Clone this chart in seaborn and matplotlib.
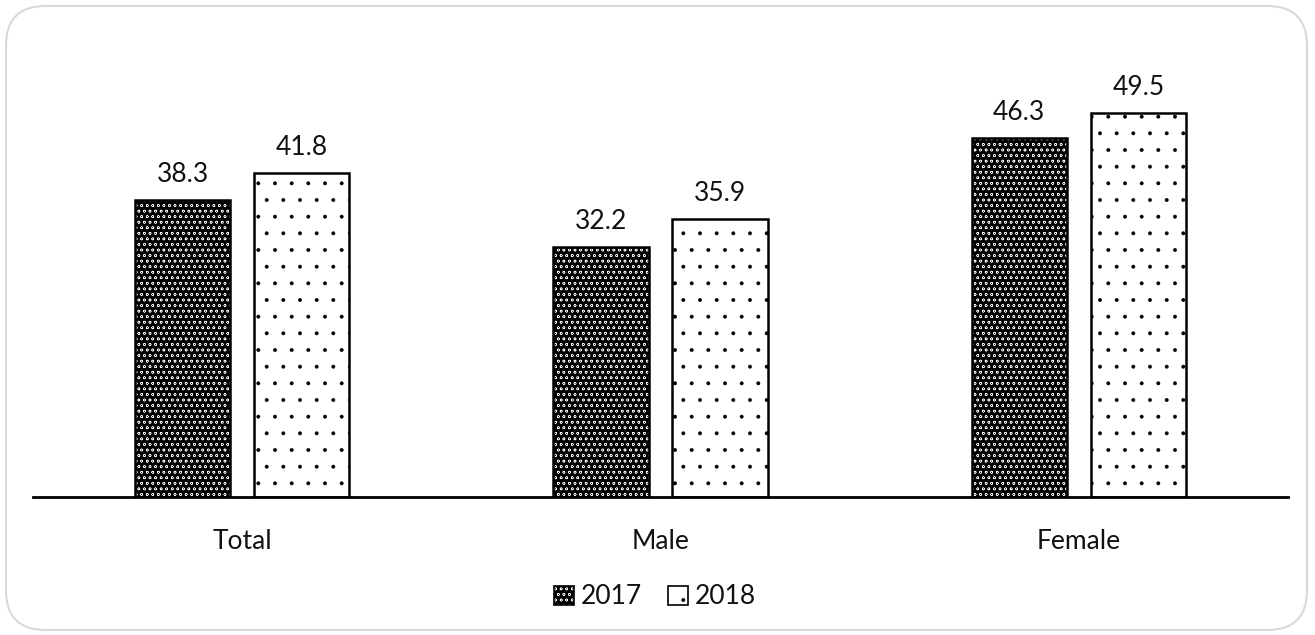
import matplotlib
matplotlib.use("Agg")
import matplotlib.pyplot as plt
from matplotlib.patches import Rectangle, FancyBboxPatch, Patch
import seaborn as sns
import pandas as pd

categories = ["Total", "Male", "Female"]
years = ["2017", "2018"]
values_2017 = [38.3, 32.2, 46.3]
values_2018 = [41.8, 35.9, 49.5]

df = pd.DataFrame({
    "category": categories * 2,
    "year": [years[0]] * 3 + [years[1]] * 3,
    "value": values_2017 + values_2018,
})

sns.set_theme(style="white")
plt.rcParams["font.family"] = ["Lato", "DejaVu Sans"]
plt.rcParams["hatch.linewidth"] = 0.35

FS = 19
TXT = "#111111"

fig = plt.figure(figsize=(13.15, 6.35), dpi=100)
ax = fig.add_axes([33 / 1315, (635 - 497) / 635, 1255 / 1315, 465 / 635])

sns.barplot(data=df, x="category", y="value", hue="year", order=categories,
            hue_order=years, palette=["black", "white"], width=0.57,
            gap=0.2, legend=False, ax=ax)

styles = {years[0]: dict(face="black", hatch="ooo", hcol="white"),
          years[1]: dict(face="white", hatch=".", hcol="black")}

bars = [p for p in ax.patches if isinstance(p, Rectangle)]
series_bars = {years[0]: bars[:3], years[1]: bars[3:6]}
for yr, ps in series_bars.items():
    st = styles[yr]
    for p in ps:
        p.set_facecolor(st["face"])
        p.set_hatch(st["hatch"])
        p.set_edgecolor(st["hcol"])
        p.set_linewidth(0)
        ax.add_patch(Rectangle(p.get_xy(), p.get_width(), p.get_height(),
                               fill=False, edgecolor="black", linewidth=1.8,
                               zorder=p.get_zorder() + 0.1))
        ax.text(p.get_x() + p.get_width() / 2, p.get_height() + 1.7,
                f"{p.get_height():.1f}", ha="center", va="bottom",
                fontsize=FS, color=TXT)

ax.set_ylim(0, 60)
ax.set_xlim(-0.5, 2.5)
ax.set_xlabel("")
ax.set_ylabel("")
ax.set_yticks([])
ax.tick_params(axis="x", length=0, pad=23, labelsize=FS, labelcolor=TXT)
for s in ["top", "left", "right"]:
    ax.spines[s].set_visible(False)
ax.spines["bottom"].set_color("black")
ax.spines["bottom"].set_linewidth(2)

# legend: patterned swatch with a black outline on top
handles = []
for yr in years:
    st = styles[yr]
    fill = Patch(facecolor=st["face"], hatch=st["hatch"], edgecolor=st["hcol"],
                 linewidth=0)
    outline = Patch(facecolor="none", edgecolor="black", linewidth=1.2)
    handles.append((fill, outline))
fig.legend(handles=handles, labels=years, loc="center",
           bbox_to_anchor=(655 / 1315, 1 - 597 / 635),
           ncol=2, frameon=False, fontsize=FS, handlelength=0.75,
           handleheight=0.75, handletextpad=0.25, columnspacing=1.0,
           labelcolor=TXT)

# rounded outer frame
fig.patches.append(FancyBboxPatch((6 / 1315, 5 / 635), 1301 / 1315, 624 / 635,
                                  boxstyle="round,pad=0,rounding_size=0.03",
                                  transform=fig.transFigure, fill=False,
                                  edgecolor="#d9d9d9", linewidth=1.5,
                                  mutation_aspect=1315 / 635))

fig.savefig("out.png", dpi=100)
